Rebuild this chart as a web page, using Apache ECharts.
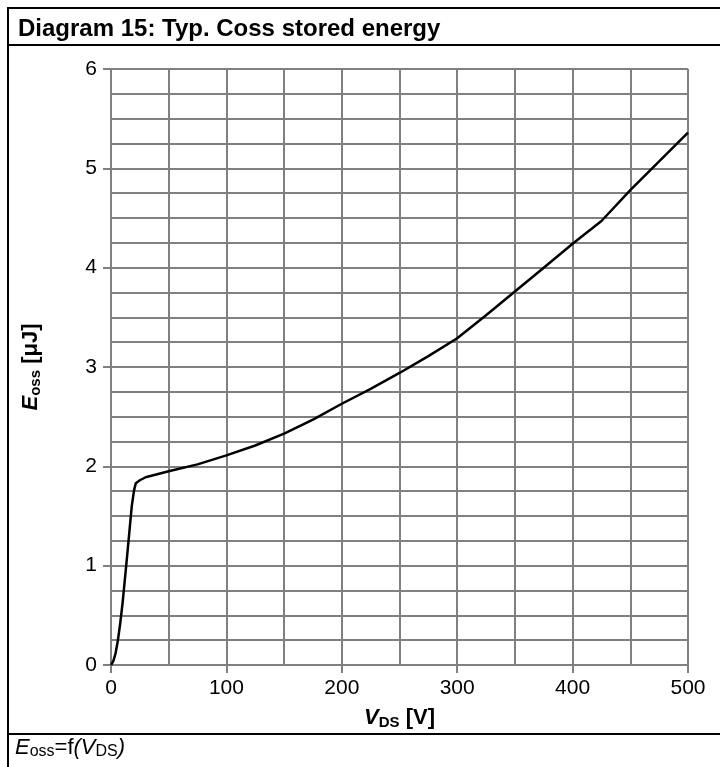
<!DOCTYPE html>
<html>
<head>
<meta charset="utf-8">
<script src="https://cdn.jsdelivr.net/npm/echarts@6/dist/echarts.min.js"></script>
<style>html,body{margin:0;padding:0;background:#fff;}#c{width:720px;height:767px;}</style>
</head>
<body>
<div id="c"></div>
<script>
const titleText = 'Diagram 15: Typ. Coss stored energy';
const vds = [0, 2, 4, 6, 8, 10, 12, 14, 16, 18, 20, 21.5, 25, 30, 40, 50, 75, 100, 125, 150, 175, 200, 225, 250, 275, 300, 325, 350, 375, 400, 425, 450, 475, 500];
const eoss = [0, 0.04, 0.12, 0.25, 0.42, 0.62, 0.86, 1.1, 1.35, 1.6, 1.76, 1.83, 1.86, 1.89, 1.92, 1.95, 2.02, 2.11, 2.21, 2.33, 2.47, 2.63, 2.78, 2.94, 3.11, 3.29, 3.52, 3.76, 4.0, 4.24, 4.47, 4.78, 5.07, 5.36];
const xTicks = [0, 100, 200, 300, 400, 500];
const yTicks = [0, 1, 2, 3, 4, 5, 6];

const gridColor = '#808080';
const FF = 'Liberation Sans, Arial';
const chart = echarts.init(document.getElementById('c'));
chart.setOption({
  animation: false,
  backgroundColor: '#fff',
  title: {
    text: titleText, left: 13, top: 12,
    textStyle: { fontFamily: FF, fontWeight: 'bold', fontSize: 24, color: '#000' }
  },
  grid: { left: 111, right: 32, top: 69, bottom: 102, containLabel: false },
  xAxis: {
    type: 'value', min: xTicks[0], max: xTicks[xTicks.length - 1], interval: 100,
    axisLine: { show: true, lineStyle: { color: gridColor, width: 2 } },
    axisTick: { show: true, length: 8, lineStyle: { color: gridColor, width: 2 } },
    axisLabel: { margin: 13, fontFamily: FF, fontSize: 21, color: '#000' },
    splitLine: { show: true, lineStyle: { color: gridColor, width: 2 } },
    minorTick: { show: false, splitNumber: 2 },
    minorSplitLine: { show: true, lineStyle: { color: gridColor, width: 2 } },
    name: '{v|V}{s|DS}{b| [V]}', nameLocation: 'middle', nameGap: 41,
    nameTextStyle: {
      rich: {
        v: { fontFamily: FF, fontWeight: 'bold', fontStyle: 'italic', fontSize: 22, color: '#000' },
        s: { fontFamily: FF, fontWeight: 'bold', fontSize: 15, color: '#000', verticalAlign: 'bottom', padding: [9, 0, 0, 0] },
        b: { fontFamily: FF, fontWeight: 'bold', fontSize: 22, color: '#000' }
      }
    }
  },
  yAxis: {
    type: 'value', min: yTicks[0], max: yTicks[yTicks.length - 1], interval: 1,
    axisLine: { show: true, lineStyle: { color: gridColor, width: 2 } },
    axisTick: { show: true, length: 8, lineStyle: { color: gridColor, width: 2 } },
    axisLabel: { margin: 14, fontFamily: FF, fontSize: 21, color: '#000' },
    splitLine: { show: true, lineStyle: { color: gridColor, width: 2 } },
    minorTick: { show: false, splitNumber: 4 },
    minorSplitLine: { show: true, lineStyle: { color: gridColor, width: 2 } },
    name: '{e|E}{s|oss}{b| [μJ]}', nameLocation: 'middle', nameGap: 68, nameRotate: 90,
    nameTextStyle: {
      rich: {
        e: { fontFamily: FF, fontWeight: 'bold', fontStyle: 'italic', fontSize: 22, color: '#000' },
        s: { fontFamily: FF, fontWeight: 'bold', fontSize: 15, color: '#000', verticalAlign: 'bottom', padding: [9, 0, 0, 0] },
        b: { fontFamily: FF, fontWeight: 'bold', fontSize: 22, color: '#000' }
      }
    }
  },
  series: [{
    type: 'line',
    data: vds.map((v, i) => [v, eoss[i]]),
    showSymbol: false,
    smooth: false,
    lineStyle: { color: '#000', width: 2.5, join: 'round' },
    z: 5
  }],
  graphic: [
    { type: 'line', shape: { x1: 8, y1: 8, x2: 720, y2: 8 }, style: { stroke: '#000', lineWidth: 2 } },
    { type: 'line', shape: { x1: 8, y1: 45, x2: 720, y2: 45 }, style: { stroke: '#000', lineWidth: 2 } },
    { type: 'line', shape: { x1: 8, y1: 734, x2: 720, y2: 734 }, style: { stroke: '#000', lineWidth: 2 } },
    { type: 'line', shape: { x1: 8, y1: 7, x2: 8, y2: 767 }, style: { stroke: '#000', lineWidth: 2 } },
    {
      type: 'text', left: 15, top: 737,
      style: {
        text: '{e|E}{s|oss}{n|=f}{i|(V}{s|DS}{i|)}',
        rich: {
          e: { fontFamily: FF, fontStyle: 'italic', fontSize: 22, fill: '#000' },
          i: { fontFamily: FF, fontStyle: 'italic', fontSize: 22, fill: '#000' },
          n: { fontFamily: FF, fontSize: 22, fill: '#000' },
          s: { fontFamily: FF, fontSize: 16, fill: '#000', verticalAlign: 'bottom', padding: [8, 0, 0, 0] }
        }
      }
    }
  ]
});
</script>
</body>
</html>
